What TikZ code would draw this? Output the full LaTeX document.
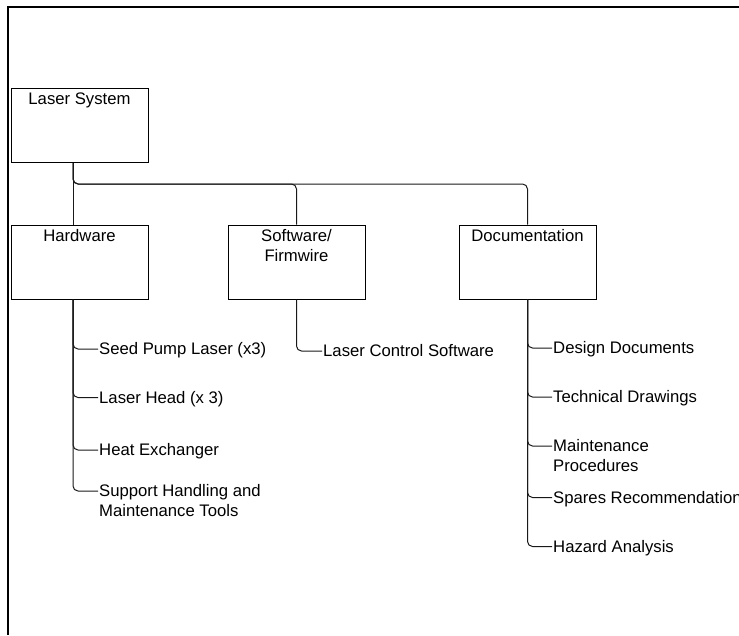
\documentclass[tikz,border=0pt]{standalone}
\usepackage{fontspec}
\setmainfont{Liberation Sans}
\usetikzlibrary{positioning}

\newcommand{\chartfont}{\fontsize{16.7}{20}\selectfont}

\begin{document}
\begin{tikzpicture}[x=1pt, y=-1pt,
    box/.style={draw, rectangle, inner sep=0pt, line width=1pt,
                minimum width=137pt, minimum height=74pt},
    boxtext/.style={anchor=north, inner sep=5pt, align=center, font=\chartfont},
    leaf/.style={anchor=north west, inner sep=1pt, align=left, font=\chartfont},
    conn/.style={draw=black!90, line width=1pt, rounded corners=5pt}]
  \useasboundingbox (0,0) rectangle (739,635);
  % page frame
  \draw[line width=2pt] (739,7) -- (8,7) -- (8,635);
  % top level and its three branches
  \node[box, label={[boxtext]north:Laser System}]       (ls)  at (79.5,125.5) {};
  \node[box, label={[boxtext]north:Hardware}]           (hw)  at (79.5,262)   {};
  \node[box, label={[boxtext]north:Software/\\Firmwire}] (sw) at (296.5,262)  {};
  \node[box, label={[boxtext]north:Documentation}]      (doc) at (527.5,262)  {};
  % bus
  \coordinate (lsout) at ([xshift=-6.5pt]ls.south);
  \coordinate (hwout) at ([xshift=-6.5pt]hw.south);
  \coordinate (bus)   at (0,184);
  \draw[conn] (lsout) -- (lsout |- hw.north);
  \draw[conn] (lsout) |- (bus -| sw.north) -- (sw.north);
  \draw[conn] (lsout) |- (bus -| doc.north) -- (doc.north);
  % hardware items
  \node[leaf] (seed) at (98,341.5) {Seed Pump Laser (x3)};
  \node[leaf] (head) at (98,390)   {Laser Head (x 3)};
  \node[leaf] (heat) at (98,442.5) {Heat Exchanger};
  \node[leaf] (tools) at (98,483.5) {Support Handling and\\Maintenance Tools};
  \draw[conn] (hwout) |- ([yshift=-7.5pt]seed.north west);
  \draw[conn] (hwout) |- ([yshift=-7.5pt]head.north west);
  \draw[conn] (hwout) |- ([yshift=-7.5pt]heat.north west);
  \draw[conn] (hwout) |- ([yshift=-7.5pt]tools.north west);
  % software items
  \node[leaf] (ctrl) at (322,343.5) {Laser Control Software};
  \draw[conn] (sw.south) |- ([yshift=-7.5pt]ctrl.north west);
  % documentation items
  \node[leaf] (design) at (552,340.5) {Design Documents};
  \node[leaf] (drw)    at (552,389.5) {Technical Drawings};
  \node[leaf] (maint)  at (552,438.5) {Maintenance\\Procedures};
  \node[leaf] (spares) at (552,490)   {Spares Recommendation};
  \node[leaf] (hazard) at (552,539)   {Hazard Analysis};
  \draw[conn] (doc.south) |- ([yshift=-7.5pt]design.north west);
  \draw[conn] (doc.south) |- ([yshift=-7.5pt]drw.north west);
  \draw[conn] (doc.south) |- ([yshift=-7.5pt]maint.north west);
  \draw[conn] (doc.south) |- ([yshift=-7.5pt]spares.north west);
  \draw[conn] (doc.south) |- ([yshift=-7.5pt]hazard.north west);
\end{tikzpicture}
\end{document}
